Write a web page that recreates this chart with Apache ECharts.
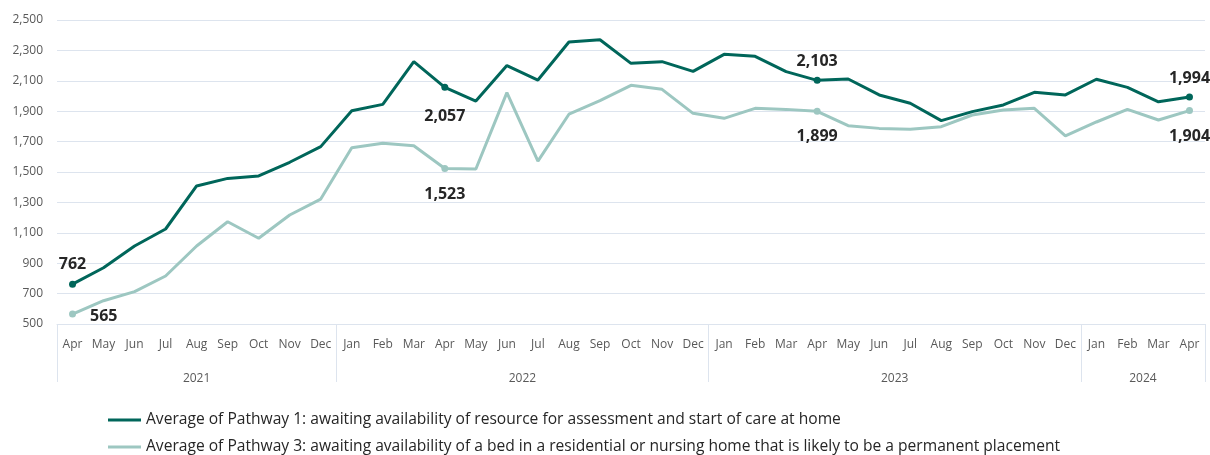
<!DOCTYPE html>
<html>
<head>
<meta charset="utf-8">
<script src="https://cdn.jsdelivr.net/npm/echarts@6/dist/echarts.min.js"></script>
<style>
  html, body { margin: 0; padding: 0; background: #ffffff; }
  #chart { width: 1210px; height: 455px; }
</style>
</head>
<body>
<div id="chart"></div>
<script>
// ---- Data ----
const monthLabels = [
  'Apr','May','Jun','Jul','Aug','Sep','Oct','Nov','Dec',
  'Jan','Feb','Mar','Apr','May','Jun','Jul','Aug','Sep','Oct','Nov','Dec',
  'Jan','Feb','Mar','Apr','May','Jun','Jul','Aug','Sep','Oct','Nov','Dec',
  'Jan','Feb','Mar','Apr'
];
const yearLabels = ['2021', '2022', '2023', '2024'];
const monthsPerYear = [9, 12, 12, 4];

const pathway1Name = 'Average of Pathway 1: awaiting availability of resource for assessment and start of care at home';
const pathway3Name = 'Average of Pathway 3: awaiting availability of a bed in a residential or nursing home that is likely to be a permanent placement';

const pathway1 = [
  762, 870, 1013, 1125, 1408, 1458, 1474, 1564, 1667,
  1903, 1945, 2226, 2057, 1967, 2200, 2105, 2355, 2370, 2215, 2226, 2162,
  2274, 2261, 2160, 2103, 2112, 2007, 1952, 1838, 1897, 1941, 2024, 2007,
  2110, 2057, 1962, 1994
];
const pathway3 = [
  565, 653, 713, 816, 1013, 1173, 1064, 1217, 1322,
  1660, 1689, 1673, 1523, 1520, 2022, 1572, 1880, 1969, 2070, 2044, 1886,
  1853, 1919, 1912, 1899, 1805, 1787, 1781, 1798, 1875, 1908, 1919, 1737,
  1829, 1912, 1842, 1904
];

const labelledIndices = [0, 12, 24, 36];
const yTicks = [500, 700, 900, 1100, 1300, 1500, 1700, 1900, 2100, 2300, 2500];

// ---- Derived helpers ----
const yearStarts = [];
const yearCenters = [];
(function () {
  let s = 0;
  monthsPerYear.forEach(function (n) {
    yearStarts.push(s);
    yearCenters.push(s + (n - 1) / 2);
    s += n;
  });
})();

const darkColor = '#00665a';
const lightColor = '#9dc7c1';
const gridColor = '#dde4ee';
const axisText = '#595959';
const fontFamily = '"Open Sans", "Noto Sans", sans-serif';

function buildData(values, positions, distances, color) {
  return values.map(function (v, i) {
    const k = labelledIndices.indexOf(i);
    if (k < 0) return { value: v, symbolSize: 0 };
    const pos = positions[k];
    return {
      value: v,
      symbol: 'circle',
      symbolSize: 7,
      itemStyle: { color: color },
      label: {
        show: true,
        position: pos,
        distance: distances[k],
        offset: pos === 'right' ? [0, 2] : [0, 0],
        formatter: function (p) { return p.value.toLocaleString('en-US'); },
        color: '#262626',
        fontSize: 16,
        fontWeight: 'bold',
        fontFamily: fontFamily
      }
    };
  });
}

const legendCommon = {
  orient: 'horizontal',
  left: 103,
  itemWidth: 33,
  itemHeight: 3,
  icon: 'rect',
  textStyle: { color: '#262626', fontSize: 15.6, fontFamily: fontFamily, lineHeight: 20 }
};

const chart = echarts.init(document.getElementById('chart'), null, { renderer: 'canvas' });

chart.setOption({
  animation: false,
  backgroundColor: '#ffffff',
  textStyle: { fontFamily: fontFamily },
  grid: { left: 57, right: 5, top: 20, bottom: 131, containLabel: false },
  legend: [
    Object.assign({}, legendCommon, { top: 405, data: [pathway1Name] }),
    Object.assign({}, legendCommon, { top: 432, data: [pathway3Name] })
  ],
  xAxis: [
    {
      type: 'category',
      data: monthLabels,
      boundaryGap: true,
      position: 'bottom',
      axisLine: { show: true, lineStyle: { color: gridColor, width: 1 } },
      axisTick: {
        show: true,
        length: 58,
        interval: function (index) { return yearStarts.indexOf(index) >= 0; },
        lineStyle: { color: gridColor, width: 1 }
      },
      axisLabel: { interval: 0, margin: 15, color: axisText, fontSize: 12, fontFamily: fontFamily },
      splitLine: { show: false }
    },
    {
      type: 'value',
      position: 'bottom',
      min: -0.5,
      max: monthLabels.length - 0.5,
      axisLine: { show: false },
      axisTick: { show: false },
      splitLine: { show: false },
      axisLabel: {
        customValues: yearCenters,
        margin: 49,
        color: axisText,
        fontSize: 12,
        fontFamily: fontFamily,
        formatter: function (v) {
          const k = yearCenters.indexOf(v);
          return k >= 0 ? yearLabels[k] : '';
        }
      }
    }
  ],
  yAxis: {
    type: 'value',
    min: yTicks[0],
    max: yTicks[yTicks.length - 1],
    axisLine: { show: false },
    axisTick: { show: false, customValues: yTicks },
    axisLabel: {
      customValues: yTicks,
      margin: 14,
      color: axisText,
      fontSize: 12,
      fontFamily: fontFamily,
      formatter: function (v) { return v.toLocaleString('en-US'); }
    },
    splitLine: { show: true, lineStyle: { color: gridColor, width: 1 } }
  },
  series: [
    {
      name: pathway1Name,
      type: 'line',
      xAxisIndex: 0,
      data: buildData(pathway1, ['top', 'bottom', 'top', 'top'], [8, 18, 7, 7], darkColor),
      symbol: 'circle',
      showSymbol: true,
      lineStyle: { color: darkColor, width: 3 },
      itemStyle: { color: darkColor },
      z: 3
    },
    {
      name: pathway3Name,
      type: 'line',
      xAxisIndex: 0,
      data: buildData(pathway3, ['right', 'bottom', 'bottom', 'bottom'], [14, 14, 14, 14], lightColor),
      symbol: 'circle',
      showSymbol: true,
      lineStyle: { color: lightColor, width: 3 },
      itemStyle: { color: lightColor },
      z: 2
    }
  ]
});
</script>
</body>
</html>
